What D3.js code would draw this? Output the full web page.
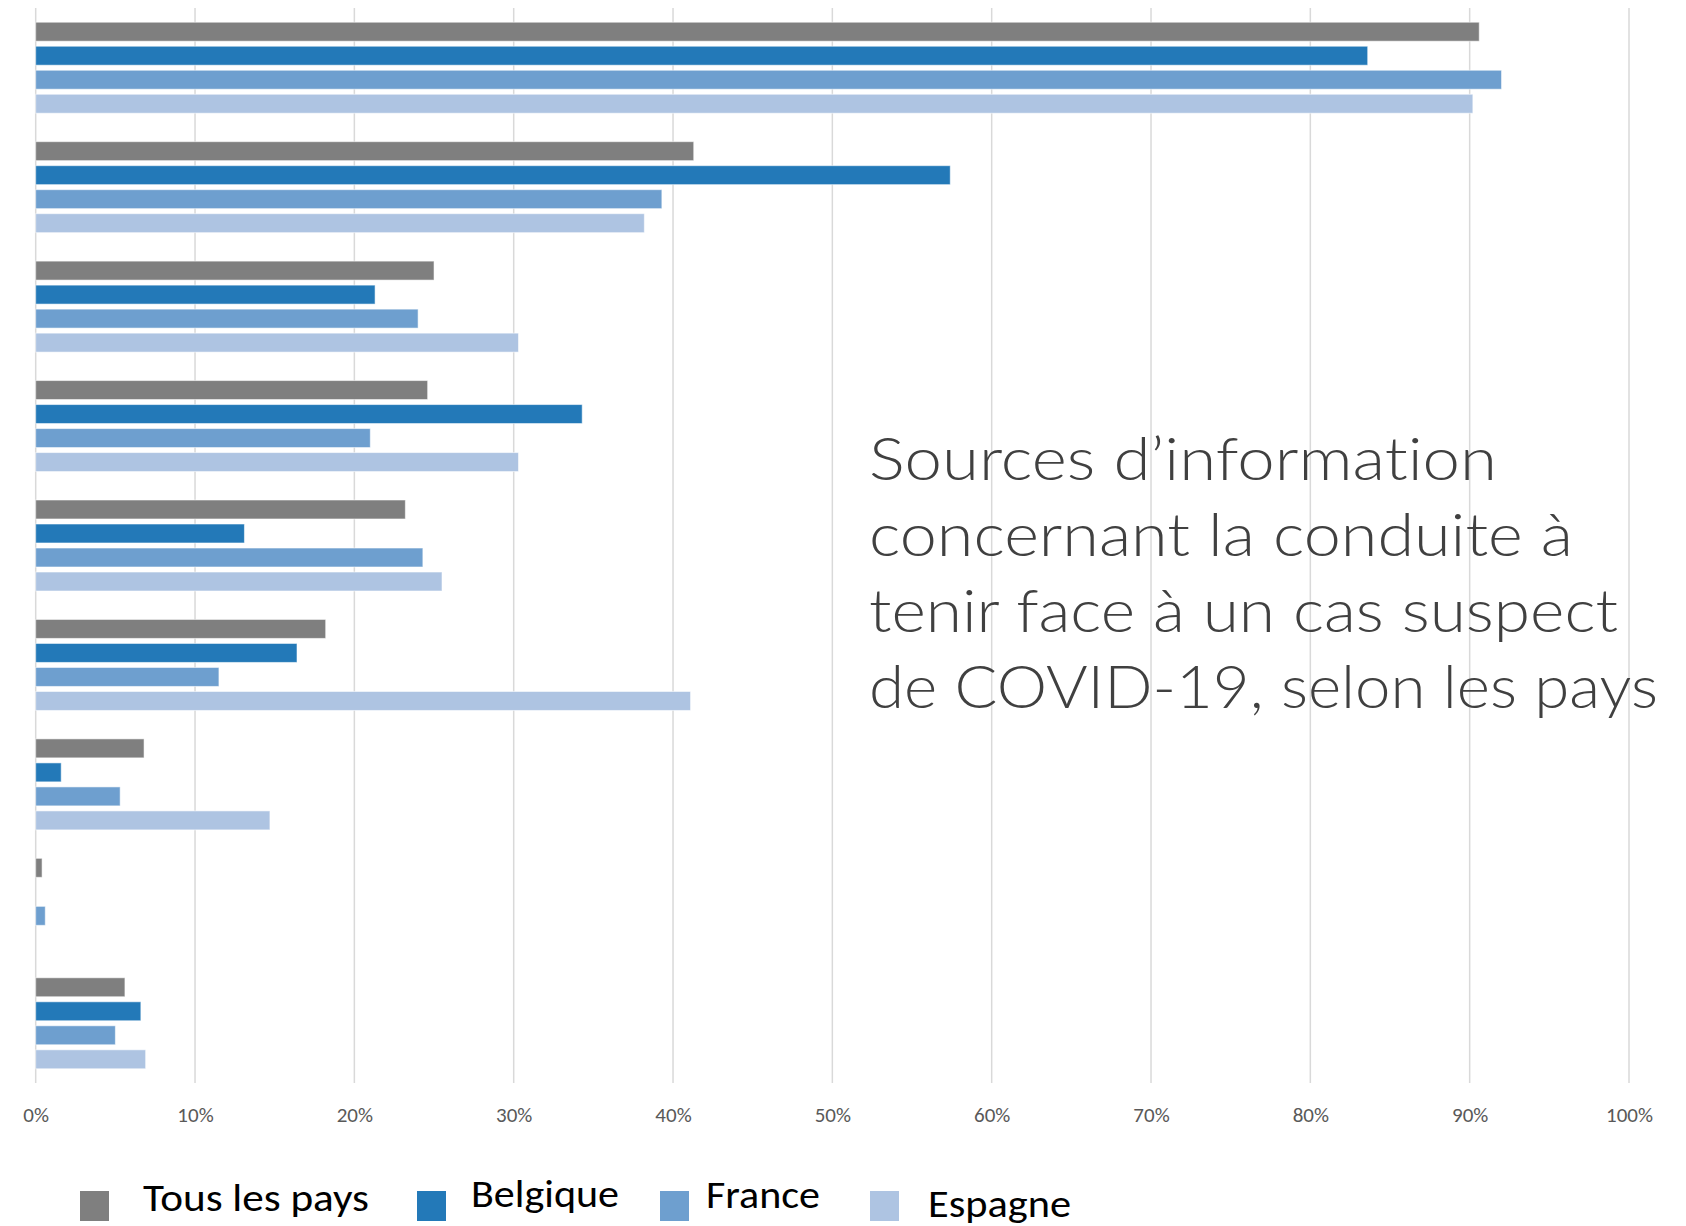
<!DOCTYPE html>
<html>
<head>
<meta charset="utf-8">
<script src="https://cdn.jsdelivr.net/npm/d3@7"></script>
<style>
  html, body { margin: 0; padding: 0; background: #fff; }
  svg { display: block; }
  text { font-variant-ligatures: none; font-feature-settings: "liga" 0, "clig" 0; }
</style>
</head>
<body>
<div id="chart"></div>
<script>
// categories are not labelled in the source picture
const categories = ['Source 1', 'Source 2', 'Source 3', 'Source 4', 'Source 5', 'Source 6', 'Source 7', 'Source 8', 'Source 9'];
const seriesNames = ['Tous les pays', 'Belgique', 'France', 'Espagne'];

const tousLesPays = [90.6, 41.3, 25.0, 24.6, 23.2, 18.2, 6.8, 0.4, 5.6];
const belgique    = [83.6, 57.4, 21.3, 34.3, 13.1, 16.4, 1.6, 0, 6.6];
const france      = [92.0, 39.3, 24.0, 21.0, 24.3, 11.5, 5.3, 0.6, 5.0];
const espagne     = [90.2, 38.2, 30.3, 30.3, 25.5, 41.1, 14.7, 0, 6.9];

const xTicks = [0, 10, 20, 30, 40, 50, 60, 70, 80, 90, 100];

const titleLines = [
  'Sources d\u2019information',
  'concernant la conduite \u00e0',
  'tenir face \u00e0 un cas suspect',
  'de COVID-19, selon les pays'
];

const colors = ['#7f7f7f', '#2379b8', '#6e9fcf', '#aec4e2'];

const width = 1686, height = 1226;
const font = 'Carlito, Calibri, Lato, "Open Sans", sans-serif';
const lightFont = '"Calibri Light", "Lato Light", "Open Sans Light", "Noto Sans Light", ' + font;

const allSeries = [tousLesPays, belgique, france, espagne];
const rows = categories.map((c, i) => ({
  cat: c,
  values: seriesNames.map((s, j) => ({ series: s, idx: j, value: allSeries[j][i] }))
}));

const svg = d3.select('#chart').append('svg')
  .attr('width', width)
  .attr('height', height);

const x = d3.scaleLinear().domain([0, 100]).range([35.7, 1629]);

const y0 = d3.scaleBand()
  .domain(categories)
  .range([8, 1083])
  .paddingInner(0.196)
  .paddingOuter(0.098);

const y1 = d3.scaleBand()
  .domain(seriesNames)
  .range([0, y0.bandwidth()])
  .paddingInner(0.21)
  .paddingOuter(0.105);

// gridlines
svg.append('g')
  .selectAll('line')
  .data(xTicks)
  .join('line')
  .attr('x1', d => x(d))
  .attr('x2', d => x(d))
  .attr('y1', 8)
  .attr('y2', 1083)
  .attr('stroke', '#d9d9d9')
  .attr('stroke-width', 1.5);

// bars
const groups = svg.append('g')
  .selectAll('g')
  .data(rows)
  .join('g')
  .attr('transform', d => `translate(0,${y0(d.cat)})`);

groups.selectAll('rect')
  .data(d => d.values.filter(v => v.value > 0))
  .join('rect')
  .attr('x', x(0))
  .attr('y', d => y1(d.series))
  .attr('width', d => x(d.value) - x(0))
  .attr('height', y1.bandwidth())
  .attr('fill', d => colors[d.idx])
  .attr('stroke', '#fff')
  .attr('stroke-opacity', 0.55)
  .attr('stroke-width', 1);

// x axis labels
const axis = d3.axisBottom(x)
  .tickValues(xTicks)
  .tickSize(0)
  .tickPadding(0)
  .tickFormat(d => d + '%');

const axisG = svg.append('g')
  .attr('transform', 'translate(0,1106)')
  .call(axis);
axisG.select('.domain').remove();
axisG.selectAll('text')
  .attr('dy', '0.76em')
  .attr('fill', '#595959')
  .style('font-family', font)
  .style('font-size', '21px');

// title block
const titleBase = [480, 556, 632, 708];
const titleWidth = [628, 704, 749, 789];
svg.append('g')
  .selectAll('text')
  .data(titleLines)
  .join('text')
  .attr('x', 869)
  .attr('y', (d, i) => titleBase[i])
  .attr('textLength', (d, i) => titleWidth[i])
  .attr('lengthAdjust', 'spacingAndGlyphs')
  .attr('fill', '#404040')
  .style('font-family', lightFont)
  .style('font-weight', 300)
  .style('font-size', '60px')
  .text(d => d);

// legend, items are not evenly spaced in the source
const legendLayout = [
  { mx: 80,  tx: 143, ty: 1211, tw: 226 },
  { mx: 417, tx: 471, ty: 1207, tw: 148 },
  { mx: 660, tx: 706, ty: 1208, tw: 114 },
  { mx: 870, tx: 928, ty: 1217, tw: 143 }
];

const legend = svg.append('g')
  .selectAll('g')
  .data(seriesNames)
  .join('g');

legend.append('rect')
  .attr('x', (d, i) => legendLayout[i].mx)
  .attr('y', 1191)
  .attr('width', 29)
  .attr('height', 30)
  .attr('fill', (d, i) => colors[i]);

legend.append('text')
  .attr('x', (d, i) => legendLayout[i].tx)
  .attr('y', (d, i) => legendLayout[i].ty)
  .attr('textLength', (d, i) => legendLayout[i].tw)
  .attr('lengthAdjust', 'spacingAndGlyphs')
  .attr('fill', '#000')
  .style('font-family', font)
  .style('font-size', '38px')
  .text(d => d);
</script>
</body>
</html>
